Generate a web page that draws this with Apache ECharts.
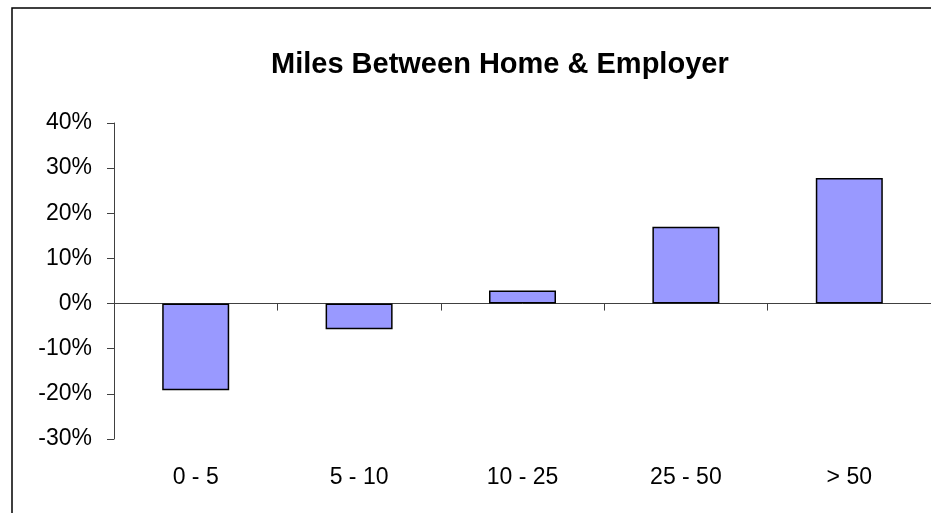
<!DOCTYPE html>
<html>
<head>
<meta charset="utf-8">
<script src="https://cdn.jsdelivr.net/npm/echarts@6/dist/echarts.min.js"></script>
<style>
  html, body { margin: 0; padding: 0; background: #fff; }
  #chart-container { width: 931px; height: 513px; }
</style>
</head>
<body>
<div id="chart-container"></div>
<script>
var dom = document.getElementById('chart-container');
var myChart = echarts.init(dom, null, { renderer: 'canvas' });

// distance bands (miles)
const categories = ['0 - 5', '5 - 10', '10 - 25', '25 - 50', '> 50'];
// percent change per band
const values = [-19.2, -5.7, 2.9, 17.0, 27.8];
const yTicks = { min: -30, max: 40, step: 10 };

const font = 'Liberation Sans, Arial, sans-serif';

var option = {
  animation: false,
  backgroundColor: '#fff',
  title: {
    text: 'Miles Between Home & Employer',
    left: 266,
    top: 45,
    textStyle: { fontFamily: font, fontSize: 29, fontWeight: 'bold', color: '#000' }
  },
  graphic: [{
    type: 'rect',
    shape: { x: 12, y: 8, width: 1000, height: 1000 },
    style: { fill: 'none', stroke: '#000', lineWidth: 1.5 },
    silent: true
  }],
  grid: { left: 114, right: -3, top: 123, bottom: 74 },
  xAxis: [{
    type: 'category',
    data: categories,
    position: 'bottom',
    axisLine: { onZero: true, lineStyle: { color: '#404040', width: 1 } },
    axisTick: { show: true, length: 7, lineStyle: { color: '#404040' } },
    axisLabel: { show: false }
  }, {
    type: 'category',
    data: categories,
    position: 'bottom',
    axisLine: { show: false, onZero: false },
    axisTick: { show: false },
    axisLabel: { margin: 27, fontFamily: font, fontSize: 23, color: '#000' }
  }],
  yAxis: {
    type: 'value',
    min: yTicks.min,
    max: yTicks.max,
    interval: yTicks.step,
    axisLine: { show: true, lineStyle: { color: '#404040', width: 1 } },
    axisTick: { show: true, length: 7, lineStyle: { color: '#404040' } },
    splitLine: { show: false },
    axisLabel: {
      margin: 22,
      fontFamily: font,
      fontSize: 23,
      color: '#000',
      formatter: '{value}%'
    }
  },
  series: [{
    type: 'bar',
    xAxisIndex: 0,
    data: values,
    barWidth: 67,
    itemStyle: { color: '#9999FF', borderColor: '#000', borderWidth: 1.5 }
  }]
};

myChart.setOption(option);
window.addEventListener('resize', myChart.resize);
</script>
</body>
</html>
